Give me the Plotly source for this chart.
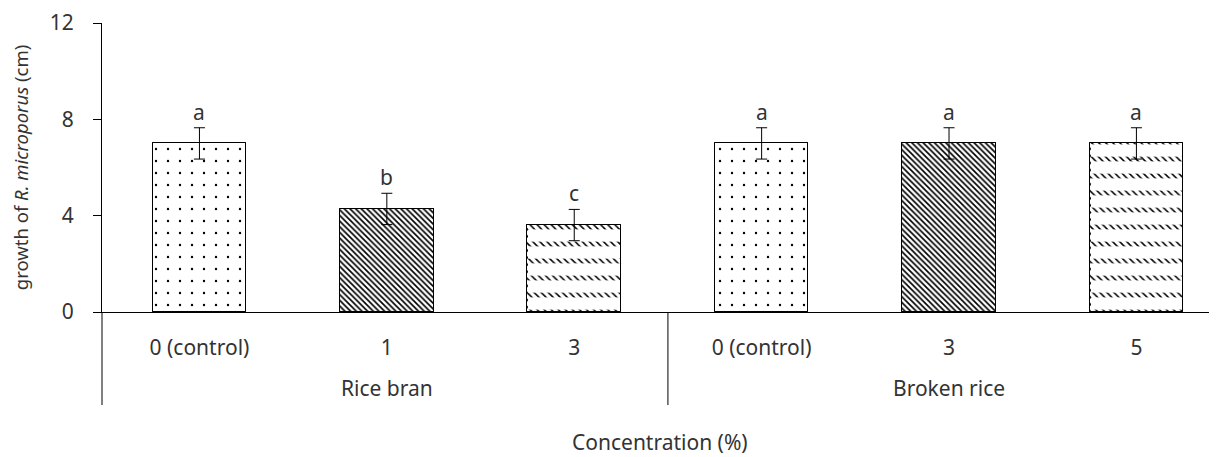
import plotly.graph_objects as go

# ---- data ----
concentrations = ["0 (control)", "1", "3", "0 (control)", "3", "5"]
groups = ["Rice bran", "Broken rice"]
group_members = [3, 3]
growth = [7.0, 4.28, 3.61, 7.0, 7.0, 7.0]
sd = [0.65, 0.65, 0.65, 0.65, 0.65, 0.65]
letters = ["a", "b", "c", "a", "a", "a"]
pattern_kind = ["dots", "diag", "rows", "dots", "diag", "rows"]

FONT = "Noto Sans"
TXT = "#333333"
FS = 21
x = list(range(len(concentrations)))

fig = go.Figure()

PAT = {
    "dots": dict(shape=".", size=12, solidity=0.03),
    "diag": dict(shape="\\", size=4, solidity=0.42),
    "rows": dict(shape="\\", size=5, solidity=0.3),
}

# main bars
fig.add_trace(go.Bar(
    x=x, y=growth, width=0.5,
    marker=dict(color="white", line=dict(color="black", width=1),
                pattern=dict(
                    shape=[PAT[k]["shape"] for k in pattern_kind],
                    size=[PAT[k]["size"] for k in pattern_kind],
                    solidity=[PAT[k]["solidity"] for k in pattern_kind],
                    fgcolor="black", bgcolor="white", fillmode="replace")),
    showlegend=False, hoverinfo="skip",
))

# overlay white horizontal bands to break diagonal stripes into rows of dashes
rows_x = [xi for xi, k in zip(x, pattern_kind) if k == "rows"]
rows_y = [g for g, k in zip(growth, pattern_kind) if k == "rows"]
fig.add_trace(go.Bar(
    x=rows_x, y=rows_y, width=0.49,
    marker=dict(color="rgba(0,0,0,0)", line=dict(width=0),
                pattern=dict(shape="-", size=17, solidity=0.72, fgopacity=1,
                             fgcolor="white", bgcolor="rgba(0,0,0,0)", fillmode="overlay")),
    showlegend=False, hoverinfo="skip",
))

# outlines + error bars on top
fig.add_trace(go.Bar(
    x=x, y=growth, width=0.5,
    marker=dict(color="rgba(0,0,0,0)", line=dict(color="black", width=1)),
    error_y=dict(type="data", array=sd, visible=True, color="black", thickness=1, width=5.5),
    showlegend=False, hoverinfo="skip",
))

# significance letters
for xi, g, s, l in zip(x, growth, sd, letters):
    fig.add_annotation(x=xi, y=g + s, text=l, showarrow=False, yanchor="bottom",
                       yshift=0, font=dict(family=FONT, size=FS, color=TXT))

# group labels and dividers
start = 0
for name, n in zip(groups, group_members):
    center = start + (n - 1) / 2
    fig.add_annotation(x=center, y=-0.263, xref="x", yref="paper", text=name,
                       showarrow=False, yanchor="middle",
                       font=dict(family=FONT, size=FS, color=TXT))
    start += n
fig.add_shape(type="line", xref="x", yref="paper", x0=2.5, x1=2.5, y0=0, y1=-0.322,
              line=dict(color="black", width=1))
fig.add_shape(type="line", xref="paper", yref="paper", x0=0, x1=0, y0=0, y1=-0.322,
              line=dict(color="black", width=1))

fig.add_annotation(x=0.5, y=-0.45, xref="paper", yref="paper", text="Concentration (%)",
                   showarrow=False, yanchor="middle",
                   font=dict(family=FONT, size=FS, color=TXT))

# page body has an 8px margin, so the figure is sized/offset to compensate
fig.update_layout(
    width=1209, height=449,
    margin=dict(l=94, r=0, t=15, b=145, autoexpand=False),
    plot_bgcolor="white", paper_bgcolor="white",
    barmode="overlay", bargap=0,
    font=dict(family=FONT, size=FS, color=TXT),
    xaxis=dict(range=[-0.52, 5.43], tickvals=x, ticktext=concentrations,
               showline=True, linecolor="black", linewidth=1, ticks="",
               showgrid=False, zeroline=False, ticklabelstandoff=17, automargin=False,
               tickfont=dict(family=FONT, size=FS, color=TXT)),
    yaxis=dict(range=[0, 12], tickvals=[0, 4, 8, 12], showline=True, linecolor="black",
               linewidth=1, ticks="outside", ticklen=8, tickcolor="black",
               showgrid=False, zeroline=False, automargin=False, ticklabelstandoff=15,
               tickfont=dict(family=FONT, size=FS, color=TXT),
               title=dict(text="growth of <i>R. microporus</i> (cm)",
                          font=dict(family=FONT, size=18.5, color=TXT), standoff=19)),
)

fig.write_html("out.html")
